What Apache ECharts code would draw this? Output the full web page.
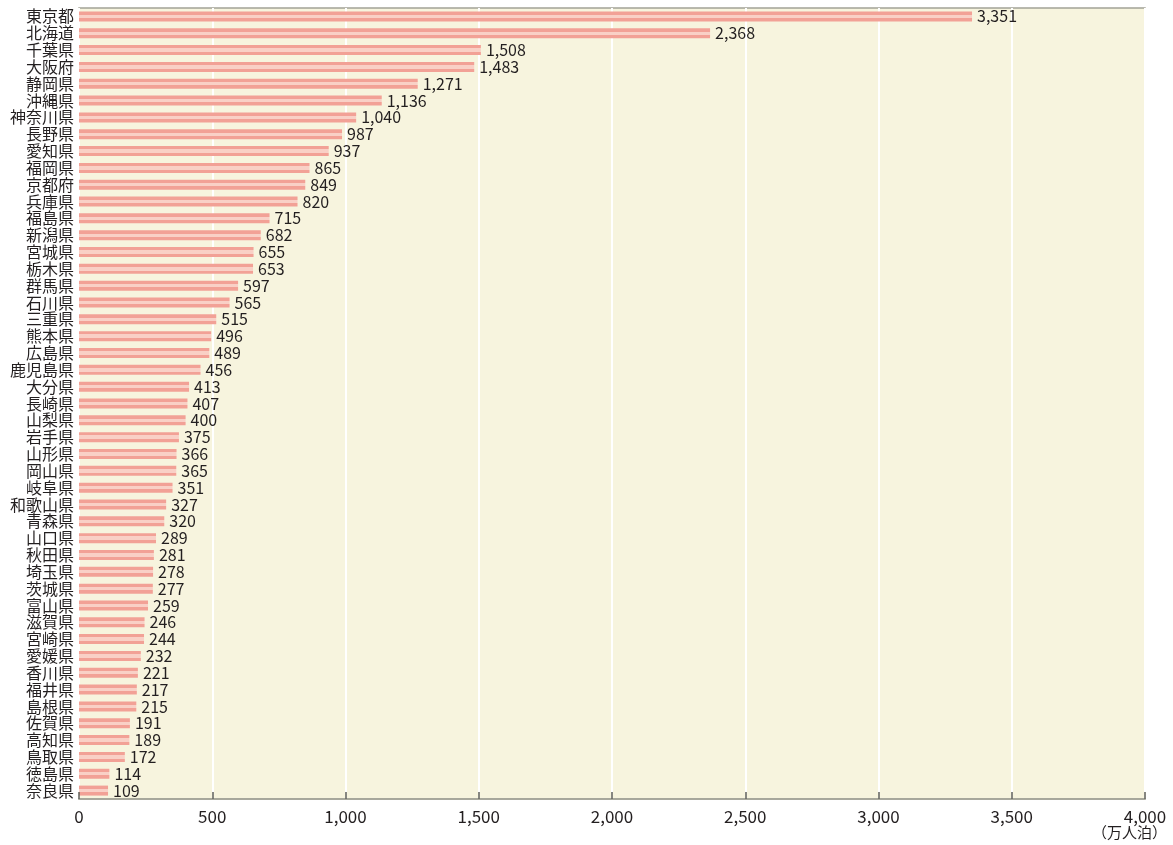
<!DOCTYPE html>
<html><head><meta charset="utf-8">
<script src="https://cdn.jsdelivr.net/npm/echarts@6/dist/echarts.min.js"></script>
<style>html,body{margin:0;padding:0;background:#fff}#c{width:1173px;height:845px}</style>
</head><body><div id="c"></div>
<script>
const prefectures = ['東京都','北海道','千葉県','大阪府','静岡県','沖縄県','神奈川県','長野県','愛知県','福岡県','京都府','兵庫県','福島県','新潟県','宮城県','栃木県','群馬県','石川県','三重県','熊本県','広島県','鹿児島県','大分県','長崎県','山梨県','岩手県','山形県','岡山県','岐阜県','和歌山県','青森県','山口県','秋田県','埼玉県','茨城県','富山県','滋賀県','宮崎県','愛媛県','香川県','福井県','島根県','佐賀県','高知県','鳥取県','徳島県','奈良県'];
const stays = [3351,2368,1508,1483,1271,1136,1040,987,937,865,849,820,715,682,655,653,597,565,515,496,489,456,413,407,400,375,366,365,351,327,320,289,281,278,277,259,246,244,232,221,217,215,191,189,172,114,109];
const xTicks = [0,500,1000,1500,2000,2500,3000,3500,4000];
const unitLabel = '（万人泊）';

const FONT = '"Noto Sans CJK JP","Noto Sans",sans-serif';
const chart = echarts.init(document.getElementById('c'), null, {renderer:'canvas'});
const fmt = v => Number(v).toLocaleString('en-US');
const xmin = xTicks[0], xmax = xTicks[xTicks.length-1], step = xTicks[1]-xTicks[0];
chart.setOption({
  animation:false,
  backgroundColor:'#ffffff',
  grid:{left:79,right:28,top:8,bottom:46,show:true,backgroundColor:'#f7f4de',borderColor:'#a3a396',borderWidth:1.5},
  xAxis:[{type:'value',min:xmin,max:xmax,interval:step,
    axisLine:{show:false},axisTick:{show:false},
    splitLine:{show:true,lineStyle:{color:'#ffffff',width:2}},
    axisLabel:{formatter:fmt,fontFamily:FONT,fontSize:17,color:'#231f20',margin:9}
  },{type:'value',min:xmin,max:xmax,interval:step,position:'bottom',offset:0,z:4,
    axisLine:{show:true,onZero:false,lineStyle:{color:'#a3a396',width:1.5}},
    splitLine:{show:false},axisLabel:{show:false},
    axisTick:{show:true,inside:true,length:7,lineStyle:{color:'#5f5f58',width:1.5}}
  }],
  yAxis:{type:'category',data:prefectures,inverse:true,
    axisLine:{show:false},axisTick:{show:false},
    axisLabel:{fontFamily:FONT,fontSize:16,color:'#231f20',margin:5,interval:0,lineHeight:16}
  },
  series:[{type:'bar',data:stays,barWidth:10,
    itemStyle:{color:new echarts.graphic.LinearGradient(0,0,0,1,[
      {offset:0,color:'#f2a196'},{offset:0.33,color:'#f2a196'},
      {offset:0.33,color:'#f9d0c6'},{offset:0.67,color:'#f9d0c6'},
      {offset:0.67,color:'#f2a196'},{offset:1,color:'#f2a196'}])},
    label:{show:true,position:'right',distance:5,formatter:p=>fmt(p.value),fontFamily:FONT,fontSize:16,color:'#231f20'}
  }],
  graphic:[{type:'text',right:6,top:825,style:{text:unitLabel,fontFamily:FONT,fontSize:15,fill:'#231f20'}}]
});
</script></body></html>
